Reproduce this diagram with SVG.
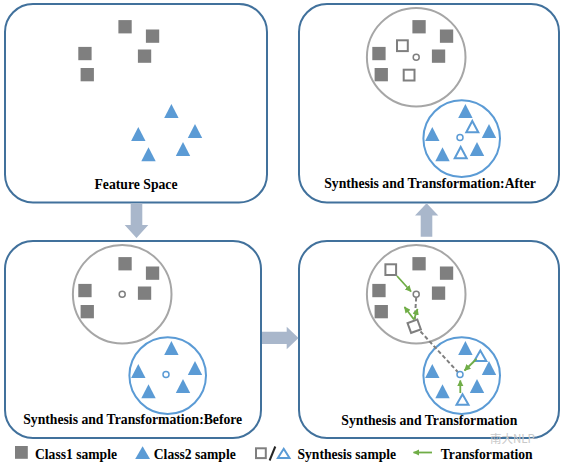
<svg xmlns="http://www.w3.org/2000/svg" xmlns:xlink="http://www.w3.org/1999/xlink" width="566" height="466" viewBox="0 0 566 466">
<style>
.panel{fill:#fff;stroke:#41719c;stroke-width:2}
.sq{fill:#7f7f7f}
.tri{fill:#5b9bd5}
.gc{fill:none;stroke:#a6a6a6;stroke-width:2}
.bc{fill:none;stroke:#5b9bd5;stroke-width:2}
.hsq{fill:#fff;stroke:#7f7f7f;stroke-width:2}
.htri{fill:#fff;stroke:#5b9bd5;stroke-width:2;stroke-linejoin:miter}
.cg{fill:#fff;stroke:#7f7f7f;stroke-width:1.5}
.cb{fill:#fff;stroke:#5b9bd5;stroke-width:1.5}
.title{font-family:"Liberation Serif","Times New Roman",serif;font-weight:bold;font-size:13.7px;fill:#000;text-anchor:middle}
.leg{font-family:"Liberation Serif","Times New Roman",serif;font-weight:bold;font-size:13.6px;fill:#000}
.flow{fill:#a9b7cb}
.tr{stroke:#70ad47;stroke-width:1.8;fill:none;marker-end:url(#gh)}
.dash{stroke:#7f7f7f;stroke-width:2;stroke-dasharray:4 2.5;fill:none}
</style>
<defs>
<marker id="gh" viewBox="0 0 10 10" refX="9" refY="5" markerWidth="6.5" markerHeight="6.5" markerUnits="userSpaceOnUse" orient="auto">
<path d="M0,0 L10,5 L0,10 Z" fill="#70ad47"/>
</marker>
<rect id="s" width="13.3" height="13.3"/>
<polygon id="t" points="0,0 7.2,14 -7.2,14"/>
<g id="sqs">
<use xlink:href="#s" x="118.4" y="20.1"/>
<use xlink:href="#s" x="145.9" y="29.5"/>
<use xlink:href="#s" x="78.3" y="46.9"/>
<use xlink:href="#s" x="137.9" y="49.5"/>
<use xlink:href="#s" x="80.6" y="68"/>
</g>
<g id="tris">
<use xlink:href="#t" x="171.4" y="104"/>
<use xlink:href="#t" x="195" y="124"/>
<use xlink:href="#t" x="138.3" y="127"/>
<use xlink:href="#t" x="183" y="142"/>
<use xlink:href="#t" x="148.5" y="147.2"/>
</g>
</defs>
<rect width="566" height="466" fill="#fff"/>

<g id="feature-space">
<rect class="panel" x="5" y="4" width="262" height="198.5" rx="28"/>
<use xlink:href="#sqs" class="sq"/>
<use xlink:href="#tris" class="tri"/>
<text class="title" x="136" y="188.5">Feature Space</text>
</g>

<g id="after">
<rect class="panel" x="299" y="4" width="260" height="198.5" rx="28"/>
<g transform="translate(294,0)">
<circle class="gc" cx="122.2" cy="57.2" r="49.3"/>
<circle class="bc" cx="167.7" cy="138.6" r="38.3"/>
<use xlink:href="#sqs" class="sq"/>
<use xlink:href="#tris" class="tri"/>
<rect class="hsq" x="103" y="40.3" width="10.8" height="10.8"/>
<rect class="hsq" x="109.7" y="69.7" width="10.8" height="10.8"/>
<polygon class="htri" points="178.3,121 184.3,132.3 172.3,132.3"/>
<polygon class="htri" points="166.7,147 172.7,158.3 160.7,158.3"/>
<circle class="cg" cx="122.2" cy="57.2" r="3"/>
<circle class="cb" cx="166" cy="137.6" r="3"/>
</g>
<text class="title" x="430" y="188.3">Synthesis and Transformation:After</text>
</g>

<g id="before">
<rect class="panel" x="5" y="241" width="256" height="197" rx="28"/>
<g transform="translate(0,237)">
<circle class="gc" cx="122.2" cy="57.2" r="49.3"/>
<circle class="bc" cx="167.7" cy="138.6" r="38.3"/>
<use xlink:href="#sqs" class="sq"/>
<use xlink:href="#tris" class="tri"/>
<circle class="cg" cx="122.2" cy="57.2" r="3"/>
<circle class="cb" cx="166" cy="137.6" r="3"/>
</g>
<text class="title" x="132.7" y="424.4">Synthesis and Transformation:Before</text>
</g>

<g id="synthesis">
<rect class="panel" x="299" y="241" width="260" height="197" rx="28"/>
<g transform="translate(294,237)">
<circle class="gc" cx="122.2" cy="57.2" r="49.3"/>
<circle class="bc" cx="167.7" cy="138.6" r="38.3"/>
<use xlink:href="#sqs" class="sq"/>
<use xlink:href="#tris" class="tri"/>
</g>
<path class="dash" d="M416.2,297.5 L414.8,319 M420.5,331.5 L457.8,372"/>
<rect class="hsq" x="385.4" y="264.3" width="10.7" height="10.7"/>
<rect class="hsq" x="-5.2" y="-5.2" width="10.4" height="10.4" transform="translate(414.2,326.2) rotate(-20)"/>
<polygon class="htri" points="480.3,350.5 486.3,361 474.3,361"/>
<polygon class="htri" points="462.5,394.3 468.5,404.7 456.5,404.7"/>
<circle class="cg" cx="416.2" cy="294.2" r="3"/>
<circle class="cb" cx="460" cy="374.6" r="3"/>
<line class="tr" x1="397" y1="276" x2="411" y2="291.5"/>
<line class="tr" x1="414" y1="319.5" x2="404.5" y2="307"/>
<line class="tr" x1="414" y1="319.5" x2="417.5" y2="309"/>
<line class="tr" x1="476.5" y1="359" x2="464.5" y2="370.5"/>
<line class="tr" x1="460.3" y1="393" x2="460.3" y2="380.5"/>
<text class="title" x="429.3" y="425">Synthesis and Transformation</text>
</g>

<g id="connectors">
<polygon class="flow" points="130.7,203.5 142.3,203.5 142.3,225 148.3,225 136.5,238 124.7,225 130.7,225"/>
<polygon class="flow" points="262,331.7 286.7,331.7 286.7,326.7 298.5,338 286.7,349.3 286.7,344 262,344"/>
<polygon class="flow" points="420.7,236.7 432.3,236.7 432.3,215.5 438.3,215.5 426.6,203.3 415,215.5 420.7,215.5"/>
</g>

<g id="legend">
<rect class="sq" x="15" y="446" width="12.8" height="12.8"/>
<text class="leg" x="35" y="458.5">Class1 sample</text>
<polygon class="tri" points="142.6,446.3 150,459 135.2,459"/>
<text class="leg" x="153.8" y="458.5">Class2 sample</text>
<rect class="hsq" x="256" y="448.3" width="9.8" height="9.8"/>
<line x1="275.3" y1="446.5" x2="269.6" y2="460.5" stroke="#262626" stroke-width="2"/>
<polygon class="htri" points="283.7,448.8 289.5,458 277.9,458"/>
<text class="leg" x="297.5" y="458.5">Synthesis sample</text>
<line class="tr" x1="432" y1="452.5" x2="413.5" y2="452.5"/>
<text class="leg" x="440.8" y="458.5">Transformation</text>
<text x="490" y="442.5" font-family="'Noto Sans CJK SC','Noto Sans',sans-serif" font-size="11.5" fill="#c9c9c9">南大NLP</text>
</g>
</svg>
